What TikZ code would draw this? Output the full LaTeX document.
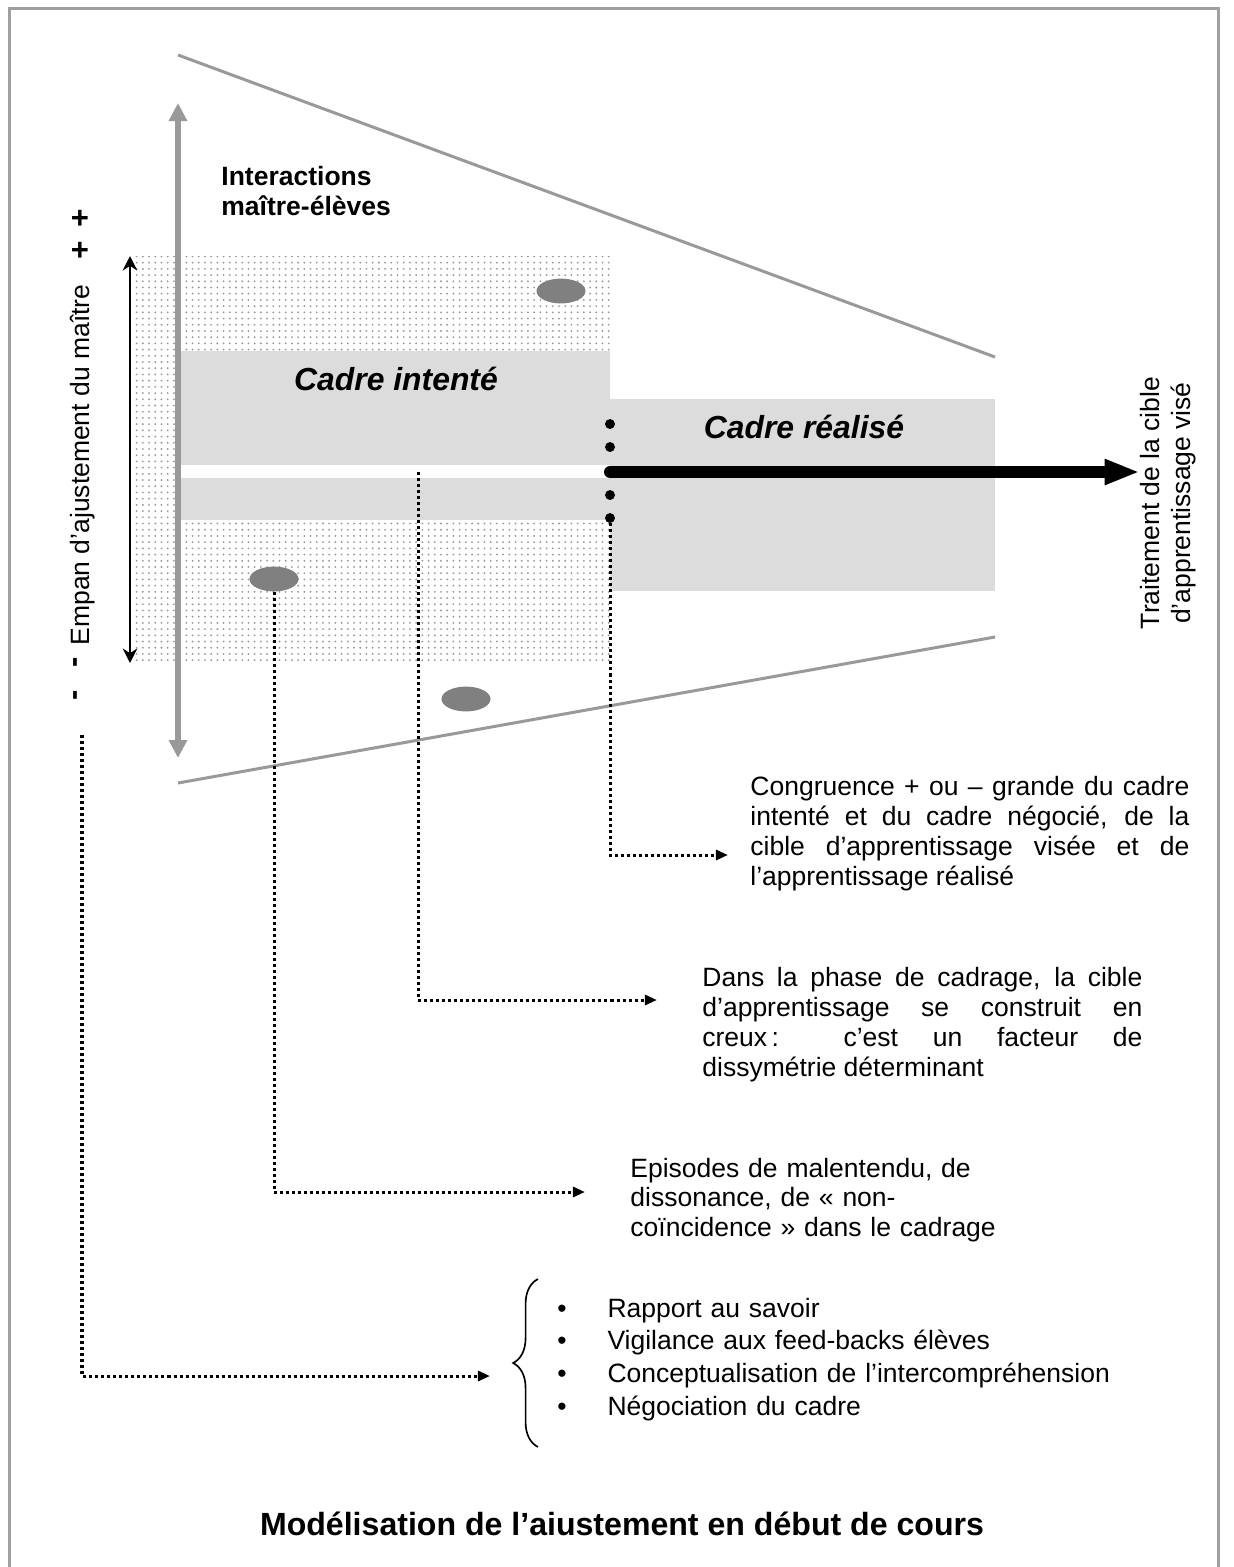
\documentclass[tikz,border=0pt]{standalone}
\usepackage{fontspec}
\setmainfont{Liberation Sans}
\usetikzlibrary{arrows.meta}
\usetikzlibrary{shapes.geometric}
\usetikzlibrary{patterns}
\usetikzlibrary{decorations.pathreplacing}

\definecolor{framegray}{RGB}{160,160,160}
\definecolor{linegray}{RGB}{153,153,153}
\definecolor{bandgray}{RGB}{220,220,220}
\definecolor{blobgray}{RGB}{128,128,128}

\tikzset{
    txt/.style={font=\fontsize{12.8}{14.5}\selectfont, inner sep=0pt},
    note/.style={txt, anchor=base west, align=justify},
    linkline/.style={line width=1.45pt, dash pattern=on 1.45pt off 1.45pt,
        -{Triangle[length=5.8pt,width=4.8pt]}},
    blob/.style={ellipse, fill=blobgray, minimum width=23.7pt,
        minimum height=12pt, inner sep=0pt},
    bigdot/.style={circle, fill=black, minimum size=4.8pt, inner sep=0pt},
    sign/.style={font=\fontsize{15}{15}\bfseries\selectfont, inner sep=0pt},
    cadre/.style={font=\fontsize{15.4}{17}\bfseries\itshape\selectfont,
        anchor=base, inner sep=0pt}
}

\begin{document}
\begin{tikzpicture}[x=0.483pt,y=-0.483pt]
        \useasboundingbox (0,0) rectangle (1233,1567);
        \draw[framegray, line width=1.45pt] (9.5,1600) -- (9.5,8) -- (1218,8) -- (1218,1600);

        \fill[pattern=dots, pattern color=gray!80] (133,256) rectangle (610,662);
        \fill[bandgray] (178,351) rectangle (610,465);
        \fill[white] (178,465) rectangle (610,478);
        \fill[bandgray] (178,478) rectangle (610,520);
        \fill[bandgray] (610,399) rectangle (995,591);

        \draw[linegray, line width=1.45pt] (178,55) -- (995,357);
        \draw[linegray, line width=1.45pt] (178,783) -- (995,637);

        \draw[linegray, line width=2.9pt,
            {Triangle[length=8.7pt,width=8.5pt]}-{Triangle[length=8.7pt,width=8.5pt]}]
            (178,103) -- (178,758);
        \draw[line width=1.2pt, {Stealth[length=7pt,width=7pt]}-{Stealth[length=7pt,width=7pt]}]
            (130,256) -- (130,663);

        \node[txt, font=\fontsize{12.8}{14.5}\bfseries\selectfont, anchor=base west,
            align=left, text width=110pt] (inter) at (221,185) {Interactions\\maître-élèves};
        \node[cadre] (intente) at (396,390) {Cadre intenté};
        \node[cadre] (realise) at (804,438) {Cadre réalisé};

        \node[blob] (blobA) at (561,291) {};
        \node[blob] (blobB) at (274,579) {};
        \node[blob] (blobC) at (466,699) {};

        \node[bigdot] (dotA) at (610,424) {};
        \node[bigdot] (dotB) at (610,447) {};
        \node[bigdot] (dotD) at (610,495) {};
        \node[bigdot] (dotE) at (610,518) {};

        \node[txt, rotate=90, align=center, font=\fontsize{12.8}{15}\selectfont]
            (cible) at (1168,503) {Traitement de la cible\\d’apprentissage visé};
        \coordinate (arrStart) at (610,472);
        \draw[line width=5.8pt, line cap=round, -{Triangle[length=17pt,width=11.5pt]}]
            (arrStart) -- (arrStart -| cible.north);

        \node[sign] (plusA) at (80,219) {+};
        \node[sign] (plusB) at (80,251) {+};
        \node[sign, rotate=90] (minusA) at (79,662) {-};
        \node[sign, rotate=90] (minusB) at (79,695) {-};
        \node[txt, rotate=90, anchor=base] (empan) at (89,465) {Empan d’ajustement du maître};

        \node[note, text width=212pt] (congr) at (750,795)
            {Congruence + ou – grande du cadre\linebreak intenté et du cadre négocié, de la\linebreak
             cible d’apprentissage visée et de\linebreak l’apprentissage réalisé};
        \node[note, text width=212.5pt, font=\fontsize{12.8}{14.6}\selectfont] (dans) at (702,986)
            {Dans la phase de cadrage, la cible\linebreak d’apprentissage se construit en\linebreak
             creux\,: c’est un facteur de\linebreak dissymétrie déterminant};
        \node[txt, anchor=base west, align=left, text width=200pt,
            font=\fontsize{12.8}{14.25}\selectfont] (episodes) at (630,1177)
            {Episodes de malentendu, de\\dissonance, de « non-\\coïncidence » dans le cadrage};
        \node[txt, anchor=base west, align=left, text width=280pt,
            font=\fontsize{12.8}{15.8}\selectfont] (levers) at (557,1317)
            {\makebox[24.2pt][l]{\textbullet}Rapport au savoir\\
             \makebox[24.2pt][l]{\textbullet}Vigilance aux feed-backs élèves\\
             \makebox[24.2pt][l]{\textbullet}Conceptualisation de l’intercompréhension\\
             \makebox[24.2pt][l]{\textbullet}Négociation du cadre};
        \draw[line width=0.8pt, decorate, decoration={brace, amplitude=12pt}]
            (538,1447) -- (538,1279);

        \coordinate (gapStart) at (418,472);
        \coordinate (empanStart) at (82,735);
        \coordinate (tipCongr) at (728,855);
        \coordinate (tipDans) at (657,1000);
        \coordinate (tipEpis) at (585,1192);
        \coordinate (tipLevers) at (490,1376);
        \draw[linkline] (dotE) |- (tipCongr);
        \draw[linkline] (gapStart) |- (tipDans);
        \draw[linkline] (blobB) |- (tipEpis);
        \draw[linkline] (empanStart) |- (tipLevers);

        \node[font=\fontsize{15.5}{18}\bfseries\selectfont, anchor=base, inner sep=0pt]
            (title) at (622,1535) {Modélisation de l’aiustement en début de cours};
\end{tikzpicture}
\end{document}
